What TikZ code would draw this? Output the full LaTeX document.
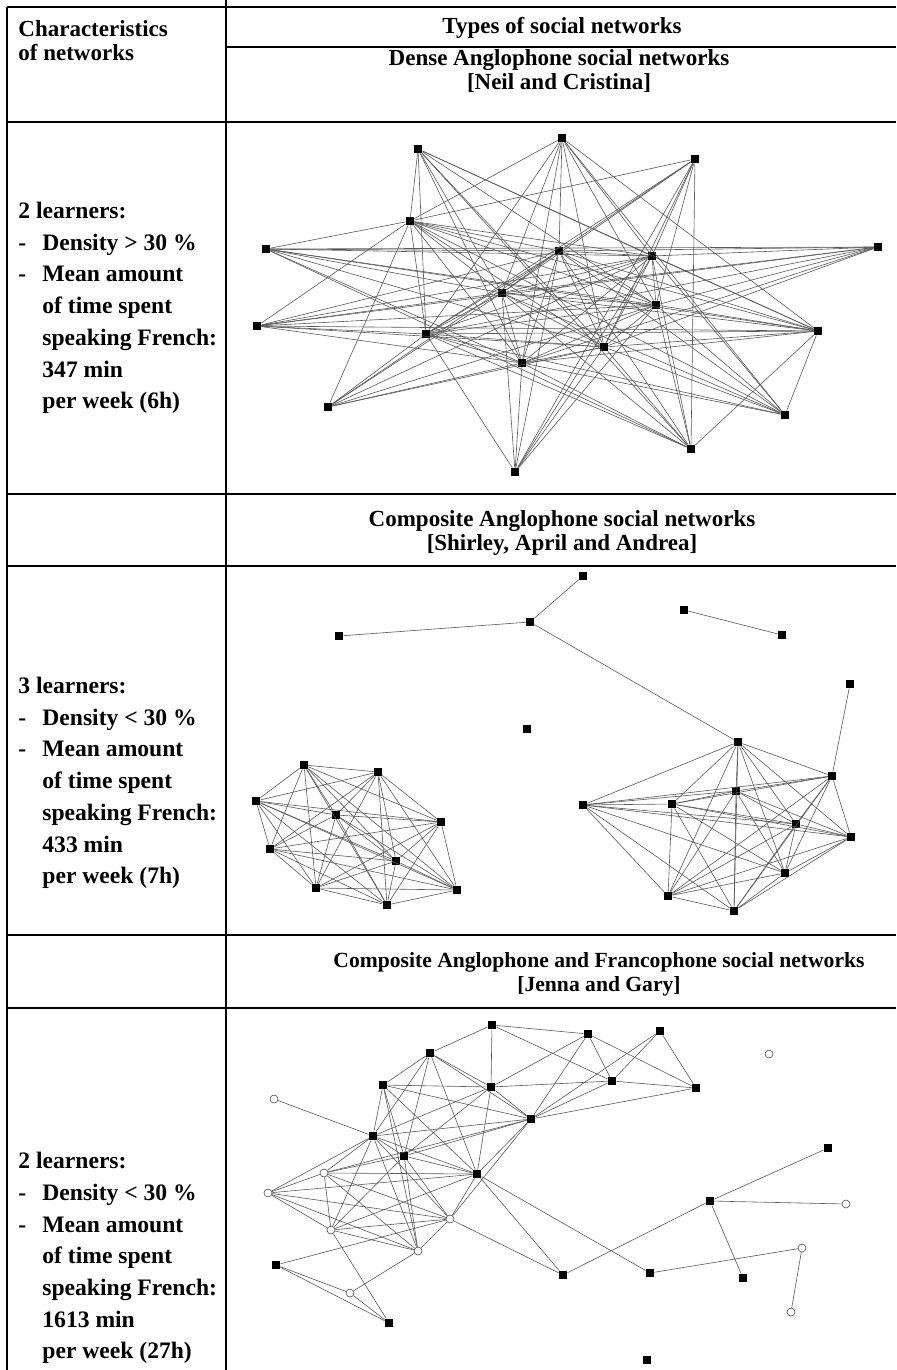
\documentclass[tikz,border=0pt]{standalone}
\usepackage{fontspec}
\setmainfont{Liberation Serif}
\usetikzlibrary{calc}

\begin{document}
\begin{tikzpicture}[x=0.5pt, y=-0.5pt,
 rule/.style={line width=0.7pt},
 actor/.style={rectangle, fill=black, inner sep=0pt, minimum size=4pt},
 fractor/.style={circle, draw=black!70, fill=white, line width=0.3pt, inner sep=0pt, minimum size=4pt},
 tie/.style={draw=black!65, line width=0.3pt},
 hd/.style={font=\bfseries\fontsize{11.5}{12}\selectfont, inner sep=0pt},
 body/.style={font=\bfseries\fontsize{11.8}{15.85}\selectfont, inner sep=0pt, anchor=north west}]
\useasboundingbox (0,0) rectangle (896,1370);

% table rules
\draw[rule] (7,7) -- (896,7);
\draw[rule] (226,47) -- (896,47);
\foreach \y in {122,494,566,935,1008}
  \draw[rule] (7,\y) -- (896,\y);
\draw[rule] (7,7) -- (7,1370);
\draw[rule] (226,0) -- (226,1370);

% headers
\node[hd, align=left, anchor=west] (hchar) at (18,41) {Characteristics\\of networks};
\node[hd] (htypes) at (562,28) {Types of social networks};
\node[hd, align=center] (tdense) at (559,71) {Dense Anglophone social networks\\{[}Neil and Cristina{]}};
\node[hd, align=center] (tcomp) at (562,533) {Composite Anglophone social networks\\{[}Shirley, April and Andrea{]}};
\node[hd, align=center, font=\bfseries\fontsize{10.8}{12}\selectfont] (tmix) at (599,974) {Composite Anglophone and Francophone social networks\\{[}Jenna and Gary{]}};

% left column
\node[body] (cdense) at (18,196) {\begin{tabular}{@{}p{12pt}@{}l@{}}
\multicolumn{2}{@{}l@{}}{2 learners:}\\
- & Density > 30 \%\\
- & Mean amount\\
  & of time spent\\
  & speaking French:\\
  & 347 min\\
  & per week (6h)
\end{tabular}};
\node[body] (ccomp) at (18,671) {\begin{tabular}{@{}p{12pt}@{}l@{}}
\multicolumn{2}{@{}l@{}}{3 learners:}\\
- & Density < 30 \%\\
- & Mean amount\\
  & of time spent\\
  & speaking French:\\
  & 433 min\\
  & per week (7h)
\end{tabular}};
\node[body] (cmix) at (18,1146) {\begin{tabular}{@{}p{12pt}@{}l@{}}
\multicolumn{2}{@{}l@{}}{2 learners:}\\
- & Density < 30 \%\\
- & Mean amount\\
  & of time spent\\
  & speaking French:\\
  & 1613 min\\
  & per week (27h)
\end{tabular}};

% dense network
\foreach \n/\x/\y in {1/418/149, 2/562/138, 3/695/159, 4/410/221, 5/266/249,
  6/878/247, 7/559/251, 8/652/256, 9/502/293, 10/656/305, 11/257/326,
  12/426/334, 13/818/331, 14/604/347, 15/522/363, 16/328/407, 17/785/415,
  18/691/449, 19/515/472}
  \node[actor] (d\n) at (\x,\y) {};
\foreach \u/\v in {4/7,4/8,4/9,4/10,4/12,4/14,4/15,7/8,7/9,7/10,7/12,7/14,7/15,
  8/9,8/10,8/12,8/14,8/15,9/10,9/12,9/14,9/15,10/12,10/14,10/15,12/14,12/15,14/15,
  1/4,1/12,1/9,1/15,1/14,1/10,1/13,1/8,
  2/4,2/12,2/9,2/7,2/15,2/14,2/10,2/8,2/17,2/13,
  3/4,3/7,3/9,3/12,3/8,3/10,3/14,3/18,3/19,
  5/4,5/7,5/6,5/9,5/10,5/14,5/15,5/13,5/8,
  6/7,6/8,6/9,6/10,6/12,6/14,6/15,6/11,
  11/4,11/12,11/15,11/14,11/9,11/7,11/8,11/10,11/13,
  13/17,13/18,13/8,13/7,13/9,13/4,13/10,13/14,13/15,13/12,
  16/4,16/12,16/9,16/15,16/14,16/7,16/10,16/8,
  17/12,17/15,17/9,17/14,17/7,17/4,17/8,17/10,
  18/10,18/14,18/9,18/7,18/12,18/5,18/1,18/8,18/15,
  19/12,19/15,19/9,19/14,19/7,19/8,19/10}
  \draw[tie] (d\u) -- (d\v);

% composite anglophone network
\foreach \n/\x/\y in {1/583/576, 2/530/622, 3/339/636, 4/684/610, 5/782/635,
  6/850/684, 7/527/729, 8/304/765, 9/378/772, 10/256/801, 11/336/815,
  12/441/822, 13/270/849, 14/396/861, 15/316/888, 16/457/890, 17/387/905,
  18/738/742, 19/832/776, 20/736/791, 21/583/805, 22/672/804, 23/796/824,
  24/851/837, 25/785/873, 26/668/896, 27/734/911}
  \node[actor] (a\n) at (\x,\y) {};
\foreach \u/\v in {3/2,2/1,2/18,4/5,6/19}
  \draw[tie] (a\u) -- (a\v);
\foreach \u in {8,...,16}{
  \pgfmathtruncatemacro\nxt{\u+1}
  \foreach \v in {\nxt,...,17} \draw[tie] (a\u) -- (a\v);
}
\foreach \u in {18,...,26}{
  \pgfmathtruncatemacro\nxt{\u+1}
  \foreach \v in {\nxt,...,27} \draw[tie] (a\u) -- (a\v);
}

% anglophone and francophone network
\foreach \n/\x/\y in {1/492/1025, 2/588/1034, 3/660/1031, 4/430/1053, 5/383/1085,
  6/491/1087, 7/612/1081, 8/696/1088, 9/531/1119, 10/373/1136, 11/404/1156,
  12/477/1174, 13/828/1148, 14/710/1201, 15/276/1265, 16/563/1275,
  17/650/1273, 18/743/1278, 19/389/1323, 20/647/1360}
  \node[actor] (j\n) at (\x,\y) {};
\foreach \n/\x/\y in {21/769/1054, 22/274/1099, 23/324/1173, 24/268/1193,
  25/450/1219, 26/331/1230, 27/418/1251, 28/846/1204, 29/802/1248,
  30/350/1293, 31/791/1312}
  \node[fractor] (j\n) at (\x,\y) {};
\foreach \u/\v in {1/2,1/4,1/6,1/7, 2/6,2/7,2/8,2/9, 3/7,3/8,3/9,
  4/5,4/6,4/9,4/10,4/11,4/12, 5/6,5/9,5/10,5/11,5/12,5/27,
  6/7,6/9,6/10,6/11,6/12, 7/8,7/9, 8/9,
  9/10,9/11,9/12,9/23,9/25,
  10/22,10/11,10/12,10/23,10/24,10/25,10/26,10/27,
  11/12,11/23,11/25,11/26,11/27,
  12/23,12/24,12/25,12/26,12/16,12/17,
  23/24,23/25,23/26,23/27, 24/25,24/26,24/27,
  25/26,25/27,25/16,25/15, 26/27,26/19, 27/30,
  15/30,15/19,30/19, 16/14,14/13,14/28,14/18,17/29,29/31}
  \draw[tie] (j\u) -- (j\v);
\end{tikzpicture}
\end{document}
